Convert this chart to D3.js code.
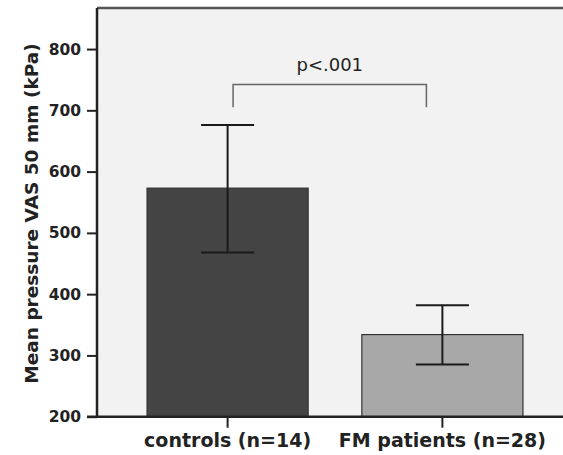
<!DOCTYPE html>
<html>
<head>
<meta charset="utf-8">
<script src="https://cdn.jsdelivr.net/npm/d3@7"></script>
<style>
  body { margin: 0; background: white; }
  svg { display: block; overflow: hidden; }
</style>
</head>
<body>
<div id="chart"></div>
<script>
// data
var groups = ['controls (n=14)', 'FM patients (n=28)']
var means = [573, 334]
var lowerCI = [468, 285]
var upperCI = [676, 382]
var barColors = ['#444444', '#a8a8a8']
var yTicks = [200, 300, 400, 500, 600, 700, 800]
var pLabel = 'p<.001'
var bracketTop = 742
var bracketEnd = 705

var width = 563
var height = 455
var margin = { top: 8, right: -10, bottom: 38, left: 97 }
var font = 'DejaVu Sans, Verdana, sans-serif'

var svg = d3.select('#chart')
  .append('svg')
  .attr('width', width)
  .attr('height', height)

var x = d3.scaleBand()
  .domain(d3.range(groups.length))
  .range([margin.left, width - margin.right])
  .paddingInner(0.25)
  .paddingOuter(0.233)

var y = d3.scaleLinear()
  .domain([200, 867])
  .range([height - margin.bottom - 0.3, margin.top])

// plot background
svg.append('rect')
  .attr('x', margin.left)
  .attr('y', margin.top)
  .attr('width', width - margin.left)
  .attr('height', y(200) - margin.top)
  .attr('fill', '#f2f2f2')

// top frame line
svg.append('line')
  .attr('x1', margin.left).attr('x2', width)
  .attr('y1', margin.top).attr('y2', margin.top)
  .attr('stroke', '#555').attr('stroke-width', 2.5)

// bars
svg.append('g')
  .selectAll('rect')
  .data(means)
  .join('rect')
    .attr('x', (d, i) => x(i))
    .attr('y', d => y(d))
    .attr('width', x.bandwidth())
    .attr('height', d => y(200) - y(d))
    .attr('fill', (d, i) => barColors[i])
    .attr('stroke', '#333')
    .attr('stroke-width', 1.2)

// error bars
var eb = svg.append('g')
  .attr('stroke', '#1a1a1a')
  .attr('stroke-width', 2)
means.forEach((m, i) => {
  var cx = x(i) + x.bandwidth() / 2
  eb.append('line')
    .attr('x1', cx).attr('x2', cx)
    .attr('y1', y(lowerCI[i])).attr('y2', y(upperCI[i]))
  ;[lowerCI[i], upperCI[i]].forEach(v => {
    eb.append('line')
      .attr('x1', cx - 26.5).attr('x2', cx + 26.5)
      .attr('y1', y(v)).attr('y2', y(v))
  })
})

// significance bracket
var bx1 = x(0) + x.bandwidth() / 2 + 5.5
var bx2 = x(1) + x.bandwidth() / 2 - 16
svg.append('path')
  .attr('d', `M${bx1},${y(bracketEnd)}V${y(bracketTop)}H${bx2}V${y(bracketEnd)}`)
  .attr('fill', 'none')
  .attr('stroke', '#666')
  .attr('stroke-width', 1.5)

svg.append('text')
  .attr('x', (bx1 + bx2) / 2)
  .attr('y', y(bracketTop) - 14)
  .attr('text-anchor', 'middle')
  .attr('font-family', font)
  .attr('font-size', '18px')
  .attr('fill', '#222')
  .text(pLabel)

// axes
function yAxis(g) {
  g.attr('transform', `translate(${margin.left},0)`)
    .call(d3.axisLeft(y).tickValues(yTicks).tickSize(10).tickPadding(6))
  g.select('.domain')
    .attr('d', `M0,${y(200)}V${margin.top}`)
    .attr('stroke', '#222').attr('stroke-width', 2.5)
  g.selectAll('.tick line').attr('stroke', '#222').attr('stroke-width', 2)
  g.selectAll('.tick text')
    .attr('font-family', font)
    .attr('font-weight', 'bold')
    .attr('font-size', '15.5px')
    .attr('fill', '#222')
}

function xAxis(g) {
  g.attr('transform', `translate(0,${y(200)})`)
    .call(d3.axisBottom(x).tickFormat(i => groups[i]).tickSize(11).tickPadding(6))
  g.select('.domain')
    .attr('d', `M${margin.left - 10},0H${width}`)
    .attr('stroke', '#222').attr('stroke-width', 2.5)
  g.selectAll('.tick line').attr('stroke', '#222').attr('stroke-width', 2)
  g.selectAll('.tick text')
    .attr('font-family', font)
    .attr('font-weight', 'bold')
    .attr('font-size', '19px')
    .attr('fill', '#222')
}

svg.append('g').call(yAxis)
svg.append('g').call(xAxis)

svg.append('text')
  .attr('transform', 'rotate(-90)')
  .attr('x', -(40 + 387) / 2)
  .attr('y', 37.5)
  .attr('text-anchor', 'middle')
  .attr('font-family', font)
  .attr('font-weight', 'bold')
  .attr('font-size', '18.5px')
  .attr('fill', '#222')
  .text('Mean pressure VAS 50 mm (kPa)')
</script>
</body>
</html>
